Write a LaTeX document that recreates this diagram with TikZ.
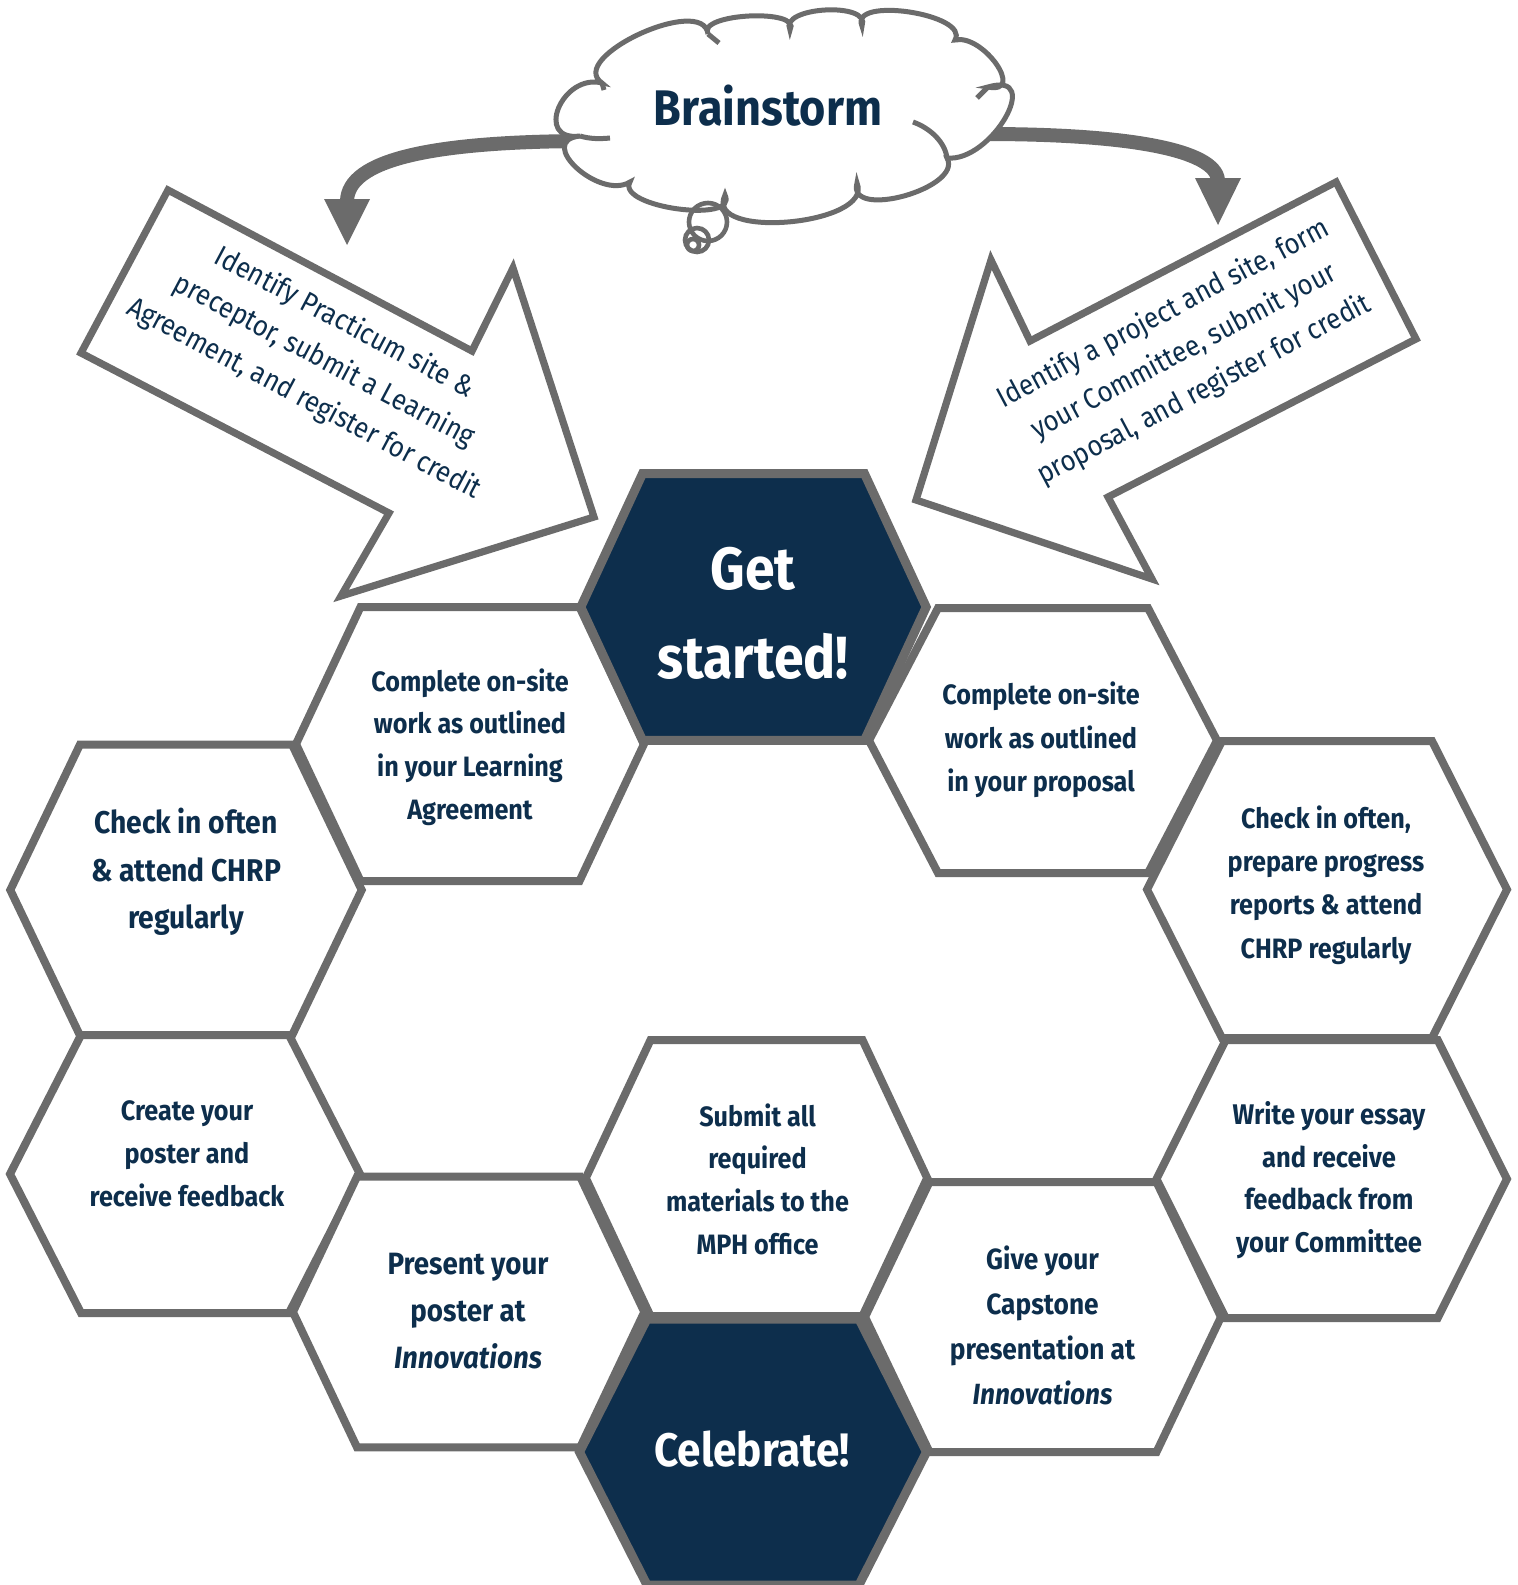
\documentclass[tikz,border=0pt]{standalone}
\usepackage{fontspec}
\setmainfont{Fira Sans}[FakeStretch=0.9]
\usetikzlibrary{calc}
\definecolor{navy}{HTML}{0D2E4C}
\definecolor{hexgray}{HTML}{6B6B6B}
\newcommand\HexCell[6]{\draw[#1] (#2-#4,#3) -- (#2-#5,#3-#6) -- (#2+#5,#3-#6) -- (#2+#4,#3) -- (#2+#5,#3+#6) -- (#2-#5,#3+#6) -- cycle;}
\def\CloudPuff#1#2#3{.. controls ($0.483*(#1)+1.333*(#2)-0.817*(#3)$) and ($0.483*(#3)+1.333*(#2)-0.817*(#1)$) .. (#3)}
\begin{document}
\begin{tikzpicture}[x=0.5pt, y=-0.5pt, line join=miter,
  hexw/.style={draw=hexgray, line width=4pt, fill=white},
  hexd/.style={draw=hexgray, line width=4.5pt, fill=navy},
  blockarrow/.style={draw=hexgray, line width=3.6pt, fill=white},
  shaft/.style={draw=hexgray, line width=7pt},
  headtip/.style={fill=hexgray},
  cloudline/.style={draw=hexgray, line width=2.5pt, fill=white},
  innerline/.style={draw=hexgray, line width=2.5pt},
  bubble/.style={draw=hexgray, line width=2.3pt},
  txt/.style={text=navy, align=center, inner sep=0pt},
  arrowtxt/.style={txt, font=\fontsize{14.4}{21.5}\selectfont}]
\useasboundingbox (0,0) rectangle (1518,1585);

% ---------- block arrows ----------
\draw[blockarrow] (168,190) -- (472,351) -- (513,268) -- (594,517) -- (341,596) -- (389,513) -- (81,353) -- cycle;
\draw[blockarrow] (1336,182) -- (1416,339) -- (1108,497) -- (1152,579) -- (916,500) -- (991,260) -- (1030,341) -- cycle;
\node[arrowtxt, rotate=-28] (ltext) at (324,361) {Identify Practicum site \&\\preceptor, submit a Learning\\Agreement, and register for credit};
\node[arrowtxt, rotate=28] (rtext) at (1184,352) {Identify a project and site, form\\your Committee, submit your\\proposal, and register for credit};

% ---------- curved arrows ----------
\coordinate (lstart) at (592,141);
\coordinate (lend) at (347,201);
\coordinate (rstart) at (985,134);
\coordinate (rend) at (1218,180);
\draw[shaft] (lstart) .. controls (430,141) and (348,160) .. (lend);
\draw[shaft] (rstart) .. controls (1130,134) and (1215,150) .. (rend);
\fill[headtip] (324,199) -- (370,199) -- (347,245) -- cycle;
\fill[headtip] (1195,178) -- (1241,178) -- (1218,225) -- cycle;

% ---------- cloud ----------
\coordinate (V1) at (602,83);
\coordinate (V2) at (708,34);
\coordinate (V3) at (790,30);
\coordinate (V4) at (862,26);
\coordinate (V5) at (955,40);
\coordinate (V6) at (988,87);
\coordinate (V7) at (947,158);
\coordinate (V8) at (857,183);
\coordinate (V9) at (725,195);
\coordinate (V10) at (630,182);
\coordinate (V11) at (580,136);
\coordinate (E1) at (640,34);
\coordinate (E2) at (750,16);
\coordinate (E3) at (826,10);
\coordinate (E4) at (910,12);
\coordinate (E5) at (997,64);
\coordinate (E6) at (1006,118);
\coordinate (E7) at (905,196);
\coordinate (E8) at (790,222);
\coordinate (E9) at (678,209);
\coordinate (E10) at (577,168);
\coordinate (E11) at (559,108);
\path[cloudline] (V1) \CloudPuff{V1}{E1}{V2} \CloudPuff{V2}{E2}{V3} \CloudPuff{V3}{E3}{V4}
  \CloudPuff{V4}{E4}{V5} \CloudPuff{V5}{E5}{V6} \CloudPuff{V6}{E6}{V7} \CloudPuff{V7}{E7}{V8}
  \CloudPuff{V8}{E8}{V9} \CloudPuff{V9}{E9}{V10} \CloudPuff{V10}{E10}{V11} \CloudPuff{V11}{E11}{V1} -- cycle;
\draw[innerline] (V11) .. controls (590,139) and (600,139) .. (610,138);
\draw[innerline] (V7) .. controls (945,142) and (930,128) .. (913,122);
\draw[innerline] (V6) -- (977,98);
\draw[innerline] (V1) -- (604,90);
\draw[innerline] (V2) -- (719,43);
\node[txt, font=\fontsize{25}{30}\selectfont\bfseries] (brain) at (768,106) {Brainstorm};
\draw[bubble] (708,222) circle[radius=19];
\draw[bubble] (697,240) circle[radius=12];
\draw[bubble] (693,245) circle[radius=6];

% ---------- hexagons ----------
\HexCell{hexw}{470}{744}{174}{109.5}{137}
\HexCell{hexw}{186}{890}{175.7}{106}{145.5}
\HexCell{hexw}{185}{1174}{175}{104}{139}
\HexCell{hexw}{468.6}{1312}{175.7}{111.6}{135.3}
\HexCell{hexw}{756.5}{1178}{170.7}{106}{138}
\HexCell{hexw}{1043}{740.5}{174}{105}{132.5}
\HexCell{hexw}{1327}{889.5}{180}{105}{148.5}
\HexCell{hexw}{1331.7}{1179}{175.2}{106}{139}
\HexCell{hexw}{1043}{1317}{178}{113.5}{135}
\HexCell{hexd}{753.5}{607}{172.7}{111}{133.3}
\HexCell{hexd}{753}{1452}{173.5}{106}{133}

% ---------- hexagon texts ----------
\node[txt, text=white, font=\fontsize{29.8}{44.5}\selectfont\bfseries] (gs) at (753,613) {Get\\started!};
\node[txt, text=white, font=\fontsize{23.5}{28}\selectfont\bfseries] (cel) at (752,1449) {Celebrate!};
\node[txt, font=\fontsize{14}{21.35}\selectfont\bfseries] (la) at (470,747) {Complete on-site\\work as outlined\\in your Learning\\Agreement};
\node[txt, font=\fontsize{15.7}{23.75}\selectfont\bfseries] (chkl) at (186,872) {Check in often\\\& attend CHRP\\regularly};
\node[txt, font=\fontsize{14}{21.5}\selectfont\bfseries] (crt) at (187,1154) {Create your\\poster and\\receive feedback};
\node[txt, font=\fontsize{15.4}{23.35}\selectfont\bfseries] (pres) at (468,1311) {Present your\\poster at\\\textit{Innovations}};
\node[txt, font=\fontsize{14}{21.35}\selectfont\bfseries] (sub) at (757.5,1179) {Submit all\\required\\materials to the\\MPH office};
\node[txt, font=\fontsize{14}{21.75}\selectfont\bfseries] (rcomp) at (1041,740) {Complete on-site\\work as outlined\\in your proposal};
\node[txt, font=\fontsize{14}{21.65}\selectfont\bfseries] (chkr) at (1326,885) {Check in often,\\prepare progress\\reports \& attend\\CHRP regularly};
\node[txt, font=\fontsize{14.2}{21.35}\selectfont\bfseries] (wrt) at (1329,1180) {Write your essay\\and receive\\feedback from\\your Committee};
\node[txt, font=\fontsize{14.6}{22.5}\selectfont\bfseries] (give) at (1042.5,1325.5) {Give your\\Capstone\\presentation at\\\textit{Innovations}};
\end{tikzpicture}
\end{document}
